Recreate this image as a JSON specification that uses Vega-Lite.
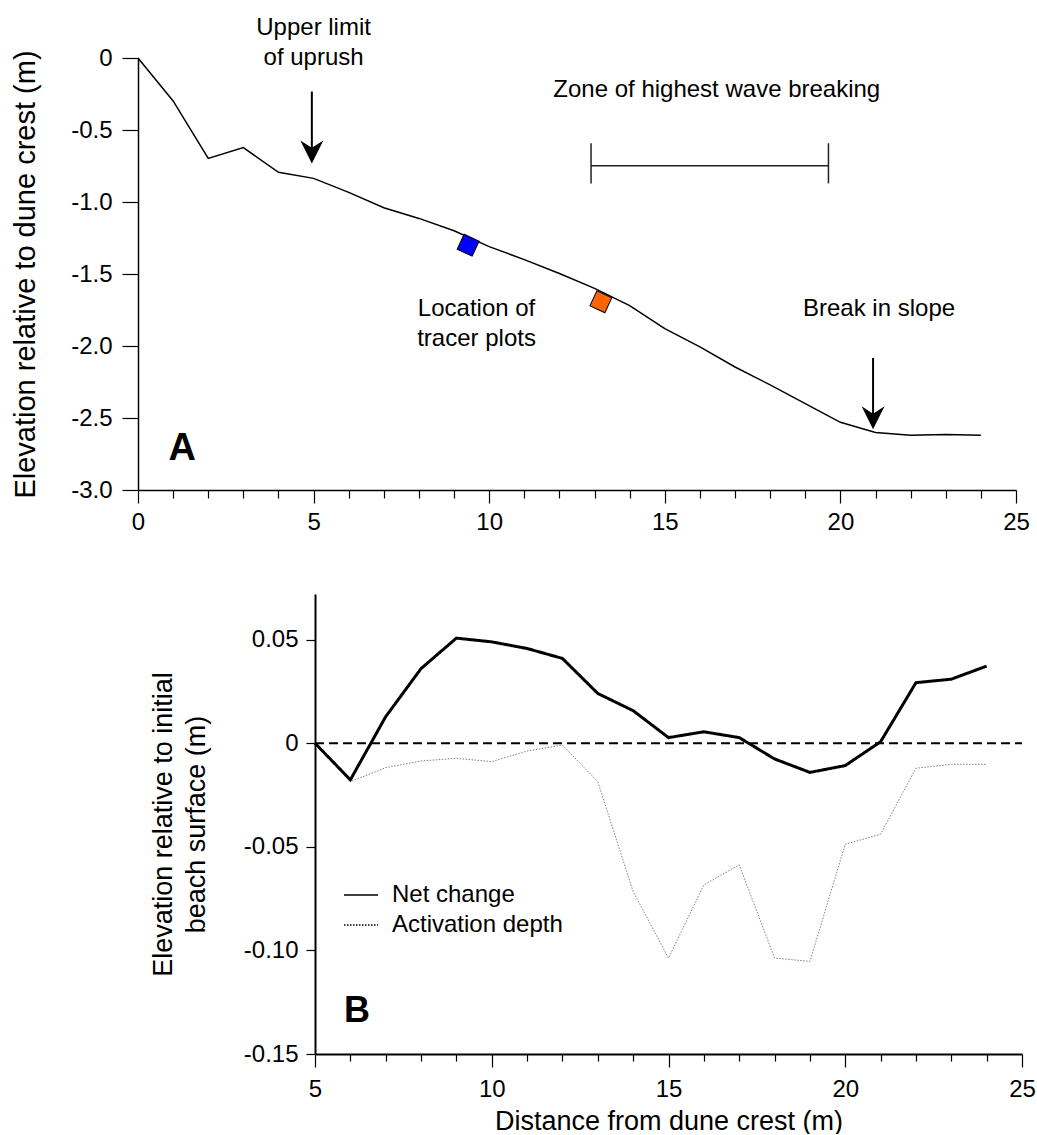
{
  "$schema": "https://vega.github.io/schema/vega-lite/v6.json",
  "padding": {"left": 11, "top": 16, "right": 5, "bottom": 0},
  "background": "white",
  "config": {
    "view": {"stroke": null},
    "font": "Liberation Sans",
    "axis": {"grid": false, "domainColor": "black", "tickColor": "black", "labelColor": "black", "titleColor": "black", "labelFont": "Liberation Sans", "titleFont": "Liberation Sans", "labelFontSize": 24, "titleFontWeight": "normal", "labelFlush": false, "labelOverlap": false, "tickWidth": 1.2},
    "text": {"font": "Liberation Sans", "color": "black"}
  },
  "datasets": {
    "profile": [
      {"x": 0, "y": 0}, {"x": 1, "y": -0.298}, {"x": 2, "y": -0.697}, {"x": 3, "y": -0.622}, {"x": 4, "y": -0.794},
      {"x": 5, "y": -0.836}, {"x": 6, "y": -0.933}, {"x": 7, "y": -1.04}, {"x": 8, "y": -1.114}, {"x": 9, "y": -1.2},
      {"x": 10, "y": -1.31}, {"x": 11, "y": -1.4}, {"x": 12, "y": -1.497}, {"x": 13, "y": -1.6}, {"x": 14, "y": -1.72},
      {"x": 15, "y": -1.88}, {"x": 16, "y": -2.006}, {"x": 17, "y": -2.146}, {"x": 18, "y": -2.27}, {"x": 19, "y": -2.4},
      {"x": 20, "y": -2.53}, {"x": 21, "y": -2.6}, {"x": 22, "y": -2.62}, {"x": 23, "y": -2.615}, {"x": 24, "y": -2.62}
    ],
    "tracers": [
      {"x": 9.4, "y": -1.3, "plot": "Plot 1"},
      {"x": 13.18, "y": -1.693, "plot": "Plot 2"}
    ],
    "stems": [
      {"x": 4.95, "y": -0.233, "y2": -0.66},
      {"x": 20.93, "y": -2.083, "y2": -2.49}
    ],
    "heads": [
      {"x": 4.95, "y": -0.652},
      {"x": 20.93, "y": -2.499}
    ],
    "zone_bar": [
      {"x": 12.9, "x2": 19.66, "y": -0.748}
    ],
    "zone_ends": [
      {"x": 12.9, "y": -0.592, "y2": -0.871},
      {"x": 19.66, "y": -0.592, "y2": -0.871}
    ],
    "notes": [
      {"x": 5.0, "y": 0.205, "label": "Upper limit\nof uprush"},
      {"x": 16.48, "y": -0.221, "label": "Zone of highest wave breaking"},
      {"x": 9.64, "y": -1.742, "label": "Location of\ntracer plots"},
      {"x": 21.1, "y": -1.74, "label": "Break in slope"}
    ],
    "beach": [
      {"x": 5, "Net change": 0, "Activation depth": 0},
      {"x": 6, "Net change": -0.0177, "Activation depth": -0.0186},
      {"x": 7, "Net change": 0.0128, "Activation depth": -0.0118},
      {"x": 8, "Net change": 0.036, "Activation depth": -0.0086},
      {"x": 9, "Net change": 0.0507, "Activation depth": -0.0073},
      {"x": 10, "Net change": 0.0489, "Activation depth": -0.0089},
      {"x": 11, "Net change": 0.0457, "Activation depth": -0.0038},
      {"x": 12, "Net change": 0.0409, "Activation depth": -0.0009},
      {"x": 13, "Net change": 0.024, "Activation depth": -0.0186},
      {"x": 14, "Net change": 0.0157, "Activation depth": -0.0716},
      {"x": 15, "Net change": 0.0027, "Activation depth": -0.1037},
      {"x": 16, "Net change": 0.0055, "Activation depth": -0.0684},
      {"x": 17, "Net change": 0.0027, "Activation depth": -0.0587},
      {"x": 18, "Net change": -0.0076, "Activation depth": -0.1037},
      {"x": 19, "Net change": -0.0141, "Activation depth": -0.1053},
      {"x": 20, "Net change": -0.0108, "Activation depth": -0.0488},
      {"x": 21, "Net change": 0.0007, "Activation depth": -0.0439},
      {"x": 22, "Net change": 0.0292, "Activation depth": -0.0121},
      {"x": 23, "Net change": 0.0309, "Activation depth": -0.0102},
      {"x": 24, "Net change": 0.0372, "Activation depth": -0.0102}
    ]
  },
  "spacing": 104,
  "bounds": "flush",
  "vconcat": [
    {
      "width": 878,
      "height": 432,
      "encoding": {
        "x": {
          "field": "x", "type": "quantitative",
          "scale": {"domain": [0, 25], "nice": false, "zero": false},
          "axis": {
            "title": null,
            "values": [0,1,2,3,4,5,6,7,8,9,10,11,12,13,14,15,16,17,18,19,20,21,22,23,24,25],
            "labelExpr": "datum.value % 5 === 0 ? datum.label : ''",
            "labelOverlap": false,
            "tickSize": {"condition": {"test": "datum.value % 5 === 0", "value": 13}, "value": 8},
            "labelPadding": 7,
            "domainWidth": 1.5
          }
        },
        "y": {
          "field": "y", "type": "quantitative",
          "scale": {"domain": [-3, 0], "nice": false, "zero": false},
          "axis": {
            "title": "Elevation relative to dune crest (m)",
            "titleFontSize": 29,
            "titlePadding": 30,
            "values": [-3, -2.5, -2, -1.5, -1, -0.5, 0],
            "labelExpr": "datum.value === 0 ? '0' : replace(format(datum.value, '.1f'), '\u2212', '-')",
            "labelOverlap": false,
            "tickSize": 16,
            "labelPadding": 10,
            "domainWidth": 1.5
          }
        }
      },
      "layer": [
        {
          "data": {"name": "profile"},
          "mark": {"type": "line", "color": "black", "strokeWidth": 1.5}
        },
        {
          "data": {"name": "tracers"},
          "mark": {"type": "point", "shape": "square", "filled": true, "size": 272, "angle": 25, "stroke": "black", "strokeWidth": 1, "opacity": 1},
          "encoding": {
            "fill": {"field": "plot", "type": "nominal", "scale": {"domain": ["Plot 1", "Plot 2"], "range": ["#0000ff", "#ff6600"]}, "legend": null}
          }
        },
        {
          "data": {"name": "stems"},
          "mark": {"type": "rule", "color": "black", "strokeWidth": 2},
          "encoding": {"y2": {"field": "y2"}}
        },
        {
          "data": {"name": "heads"},
          "mark": {"type": "point", "shape": "M0,1L-1,-1L0,-0.35L1,-1Z", "filled": true, "color": "black", "size": 529, "opacity": 1, "strokeWidth": 0}
        },
        {
          "data": {"name": "zone_bar"},
          "mark": {"type": "rule", "color": "#222222", "strokeWidth": 1.5},
          "encoding": {"x2": {"field": "x2"}}
        },
        {
          "data": {"name": "zone_ends"},
          "mark": {"type": "rule", "color": "#222222", "strokeWidth": 1.5},
          "encoding": {"y2": {"field": "y2"}}
        },
        {
          "data": {"name": "notes"},
          "mark": {"type": "text", "fontSize": 24, "lineBreak": "\n", "lineHeight": 30, "align": "center", "baseline": "middle", "color": "black"},
          "encoding": {"text": {"field": "label", "type": "nominal"}}
        },
        {
          "data": {"values": [{"x": 1.26, "y": -2.713, "label": "A"}]},
          "mark": {"type": "text", "fontSize": 38, "fontWeight": "bold", "align": "center", "baseline": "middle", "color": "black"},
          "encoding": {"text": {"field": "label", "type": "nominal"}}
        }
      ]
    },
    {
      "width": 884,
      "height": 460,
      "encoding": {
        "x": {
          "field": "x", "type": "quantitative",
          "scale": {"domain": [5, 25], "range": [177, 884], "nice": false, "zero": false},
          "axis": {
            "title": "Distance from dune crest (m)",
            "titleFontSize": 27,
            "titlePadding": 7,
            "values": [5,6,7,8,9,10,11,12,13,14,15,16,17,18,19,20,21,22,23,24,25],
            "labelExpr": "datum.value % 5 === 0 ? datum.label : ''",
            "labelOverlap": false,
            "tickSize": {"condition": {"test": "datum.value % 5 === 0", "value": 13}, "value": 7},
            "labelPadding": 10,
            "domainWidth": 2
          }
        },
        "y": {
          "field": "y", "type": "quantitative",
          "scale": {"domain": [-0.15, 0.072], "nice": false, "zero": false},
          "axis": {
            "title": ["Elevation relative to initial", "beach surface (m)"],
            "titleFontSize": 27,
            "titleLineHeight": 33,
            "titlePadding": 33,
            "offset": -177,
            "values": [-0.15, -0.1, -0.05, 0, 0.05],
            "labelExpr": "datum.value === 0 ? '0' : replace(format(datum.value, '.2f'), '\u2212', '-')",
            "labelOverlap": false,
            "tickSize": 9,
            "labelPadding": 8,
            "domainWidth": 2
          }
        }
      },
      "layer": [
        {
          "data": {"name": "beach"},
          "transform": [
            {"fold": ["Net change", "Activation depth"], "as": ["series", "y"]},
            {"filter": "datum.series === 'Activation depth'"}
          ],
          "mark": {"type": "line", "color": "#808080", "strokeWidth": 1},
          "encoding": {
            "strokeDash": {
              "field": "series", "type": "nominal",
              "scale": {"domain": ["Net change", "Activation depth"], "range": [[1, 0], [1.5, 1.5]]},
              "legend": {
                "title": null, "orient": "none", "legendX": 205, "legendY": 819,
                "symbolType": "stroke", "symbolSize": 1156, "symbolStrokeColor": "black", "symbolStrokeWidth": 1.5,
                "labelFontSize": 24, "labelFont": "Liberation Sans", "labelColor": "black", "labelOffset": 13,
                "rowPadding": -4, "padding": 0, "labelLimit": 400
              }
            }
          }
        },
        {
          "data": {"name": "beach"},
          "transform": [
            {"fold": ["Net change", "Activation depth"], "as": ["series", "y"]},
            {"filter": "datum.series === 'Net change'"}
          ],
          "mark": {"type": "line", "color": "black", "strokeWidth": 3},
          "encoding": {
            "strokeDash": {
              "field": "series", "type": "nominal",
              "scale": {"domain": ["Net change", "Activation depth"], "range": [[1, 0], [1.5, 1.5]]},
              "legend": {
                "title": null, "orient": "none", "legendX": 205, "legendY": 819,
                "symbolType": "stroke", "symbolSize": 1156, "symbolStrokeColor": "black", "symbolStrokeWidth": 1.5,
                "labelFontSize": 24, "labelFont": "Liberation Sans", "labelColor": "black", "labelOffset": 13,
                "rowPadding": -4, "padding": 0, "labelLimit": 400
              }
            }
          }
        },
        {
          "data": {"values": [{"x": 5, "x2": 25, "y": 0}]},
          "mark": {"type": "rule", "strokeDash": [9, 5], "strokeWidth": 2, "color": "black"},
          "encoding": {"x2": {"field": "x2"}}
        },
        {
          "data": {"values": [{"x": 6.19, "y": -0.1294, "label": "B"}]},
          "mark": {"type": "text", "fontSize": 36, "fontWeight": "bold", "align": "center", "baseline": "middle", "color": "black"},
          "encoding": {"text": {"field": "label", "type": "nominal"}}
        }
      ]
    }
  ]
}
